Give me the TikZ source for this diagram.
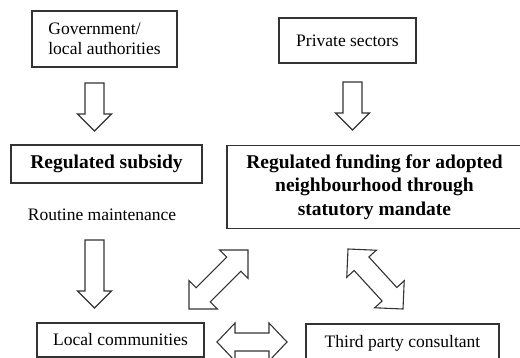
\documentclass[tikz,border=0pt]{standalone}
\usepackage{fontspec}
\setmainfont{Liberation Serif}
\begin{document}
\begin{tikzpicture}[x=1pt,y=-1pt,
  lc/.style={draw=black!80, line width=1.1pt},
  box/.style={lc, rectangle, inner sep=0pt, font=\fontsize{17.5}{19.5}\selectfont},
  boldbox/.style={lc, rectangle, inner sep=0pt, font=\fontsize{19.5}{23.5}\selectfont\bfseries, align=center},
  blk/.style={lc, fill=white, line join=miter},
  pics/sarrow/.style n args={4}{code={
    \draw[blk] (0,-#4) -- ({#1-#2},-#4) -- ({#1-#2},-#3) -- (#1,0) -- ({#1-#2},#3) -- ({#1-#2},#4) -- (0,#4) -- cycle;}},
  pics/darrow/.style n args={4}{code={
    \draw[blk] (0,0) -- (#2,-#3) -- (#2,-#4) -- ({#1-#2},-#4) -- ({#1-#2},-#3) -- (#1,0) -- ({#1-#2},#3) -- ({#1-#2},#4) -- (#2,#4) -- (#2,#3) -- cycle;}}
]
\useasboundingbox (0,0) rectangle (520,358);
\clip (0,0) rectangle (520,358);

\node[box, minimum width=145pt, minimum height=56pt, align=left] (gov) at (104.5,39) {Government/\\local authorities};
\node[box, minimum width=137pt, minimum height=45pt] (priv) at (347.5,40.5) {Private sectors};
\node[boldbox, minimum width=191pt, minimum height=38pt] (subs) at (106.5,164) {Regulated subsidy};
\node[boldbox, minimum width=295pt, minimum height=83pt] (fund) at (374.5,187) {Regulated funding for adopted\\neighbourhood through\\statutory mandate};
\node[font=\fontsize{17.5}{19.5}\selectfont, inner sep=0pt] (rout) at (102,215) {Routine maintenance};
\node[box, minimum width=167pt, minimum height=34pt] (loc) at (120.5,340) {Local communities};
\node[box, minimum width=193pt, minimum height=38pt] (third) at (402.5,343) {Third party consultant};

% block arrows
\pic[rotate=-90] (a1) at (94.5,83) {sarrow={48}{17}{17}{9.5}};
\pic[rotate=-90] (a2) at (352.5,82) {sarrow={48}{17}{17}{9.5}};
\pic[rotate=-90] (a3) at (94.5,240) {sarrow={68}{17}{17}{9.5}};
\pic (a4) at (217,342) {darrow={70}{18}{19}{9}};
\pic[rotate=45] (a5) at (189,309) {darrow={83.4}{20}{20}{10}};
\pic[rotate=-47.5] (a6) at (348,249) {darrow={81.4}{20}{20}{10}};
\end{tikzpicture}
\end{document}
